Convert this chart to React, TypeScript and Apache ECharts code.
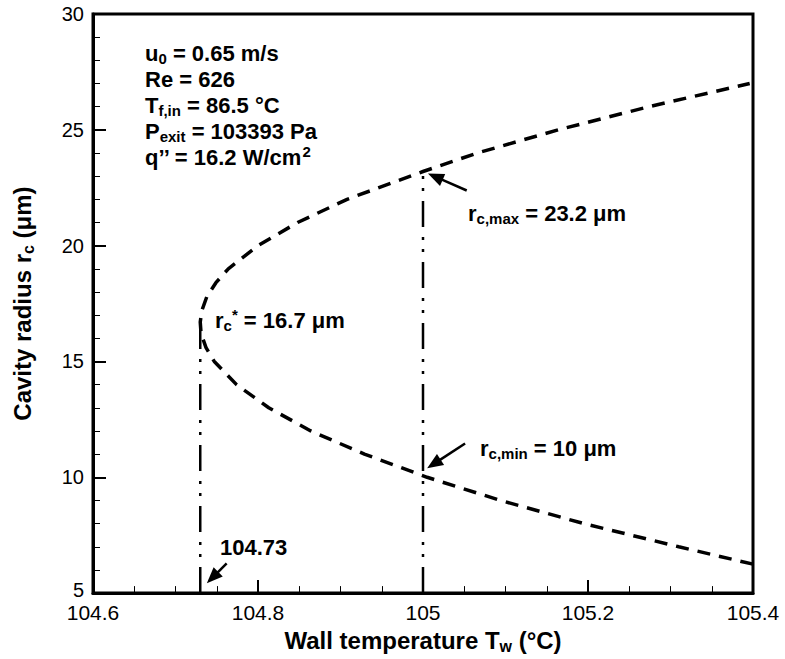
import React, { useEffect, useRef } from "react";
import * as echarts from "echarts";

// Axis tick labels
const tempTicks = ["104.6", "104.8", "105", "105.2", "105.4"];
const radiusTicks = ["5", "10", "15", "20", "25", "30"];

// Active cavity radius range vs. wall temperature (lower branch, then upper branch)
const curveTemp = [
  105.4, 105.31, 105.195, 105.094, 105.005, 104.929, 104.864, 104.813, 104.774,
  104.747, 104.737, 104.731, 104.73, 104.732, 104.738, 104.749, 104.764, 104.8,
  104.848, 104.908, 105.0, 105.066, 105.164, 105.274, 105.396,
];
const curveRadius = [
  6.25, 7, 8, 9, 10, 11, 12, 13, 14, 15, 15.6, 16.2, 16.7, 17.2, 17.8, 18.4, 19,
  20, 21, 22, 23.2, 24, 25, 26, 27,
];

// Key points
const baseRadius = 5;
const onsetTemp = 104.73;
const onsetRadius = 16.7;
const refTemp = 105;
const radiusMax = 23.2;
const radiusMin = 10;

// Annotation arrows: [tailT, tailR, headT, headR]
const arrows = [
  [105.053, 22.38, 105.006, 23.11],
  [105.051, 11.46, 105.005, 10.39],
  [104.762, 6.28, 104.738, 5.43],
];

const FONT = "'Liberation Sans', Arial, Helvetica, sans-serif";

const rich = {
  b: { fontSize: 22, fontWeight: "bold", fontFamily: FONT, color: "#000", lineHeight: 26, verticalAlign: "middle" },
  s: { fontSize: 15, fontWeight: "bold", fontFamily: FONT, color: "#000", lineHeight: 12, verticalAlign: "bottom" },
  p: { fontSize: 15, fontWeight: "bold", fontFamily: FONT, color: "#000", lineHeight: 12, verticalAlign: "top" },
};

const infoLines = [
  "{b|u}{s|0}{b| = 0.65 m/s}",
  "{b|Re = 626}",
  "{b|T}{s|f,in}{b| = 86.5 °C}",
  "{b|P}{s|exit}{b| = 103393 Pa}",
  "{b|q’’ = 16.2 W/cm}{p|2}",
];

function findTick(list: string[], v: number) {
  return list.find((t) => Math.abs(parseFloat(t) - v) < 1e-6) ?? "";
}

function textEl(x: number, y: number, text: string) {
  return {
    type: "text",
    x,
    y,
    silent: true,
    style: { text, rich, align: "left", verticalAlign: "middle", fill: "#000" },
  };
}

const titleRich = {
  t: { fontSize: 24, fontWeight: "bold", fontFamily: FONT, color: "#000", lineHeight: 28, verticalAlign: "middle" },
  s: { fontSize: 16, fontWeight: "bold", fontFamily: FONT, color: "#000", lineHeight: 12, verticalAlign: "bottom" },
};

export default function App() {
  const ref = useRef<HTMLDivElement>(null);

  useEffect(() => {
    if (!ref.current) return;
    const chart = echarts.init(ref.current, undefined, { renderer: "svg" });

    const dashDot = [26, 10, 3, 9, 3, 10];

    chart.setOption({
      animation: false,
      backgroundColor: "#fff",
      grid: {
        left: 93,
        right: 32,
        top: 14,
        bottom: 61,
        show: true,
        borderColor: "#000",
        borderWidth: 3,
        backgroundColor: "transparent",
      },
      xAxis: {
        type: "value",
        min: 104.6,
        max: 105.4,
        interval: 0.2,
        name: "{t|Wall temperature T}{s|w}{t| (°C)}",
        nameLocation: "middle",
        nameGap: 29,
        nameTextStyle: { rich: titleRich },
        splitLine: { show: false },
        axisLine: { show: true, lineStyle: { color: "#000", width: 3 } },
        axisTick: { show: true, inside: true, length: 13, lineStyle: { color: "#000", width: 2 } },
        minorTick: { show: true, splitNumber: 4, length: 7, lineStyle: { color: "#000", width: 1 } },
        axisLabel: {
          color: "#000",
          fontSize: 21,
          lineHeight: 17,
          fontFamily: FONT,
          margin: 11,
          formatter: (v: number) => findTick(tempTicks, v),
        },
      },
      yAxis: {
        type: "value",
        min: 5,
        max: 30,
        interval: 5,
        name: "{t|Cavity radius r}{s|c}{t| (μm)}",
        nameLocation: "middle",
        nameRotate: 90,
        nameGap: 57,
        nameTextStyle: { rich: titleRich },
        splitLine: { show: false },
        axisLine: { show: true, lineStyle: { color: "#000", width: 3 } },
        axisTick: { show: true, inside: true, length: 13, lineStyle: { color: "#000", width: 2 } },
        minorTick: { show: true, splitNumber: 5, length: 7, lineStyle: { color: "#000", width: 1 } },
        axisLabel: {
          color: "#000",
          fontSize: 20,
          lineHeight: 15,
          fontFamily: FONT,
          margin: 9,
          formatter: (v: number) => {
            const t = findTick(radiusTicks, v);
            return v === 5 ? `{lo|${t}}` : t;
          },
          rich: {
            lo: { fontSize: 20, fontFamily: FONT, color: "#000", lineHeight: 13, padding: [0, 0, 6, 0] },
          },
        },
      },
      series: [
        {
          type: "line",
          name: "cavity range",
          data: curveTemp.map((t, i) => [t, curveRadius[i]]),
          showSymbol: false,
          symbol: "none",
          lineStyle: { color: "#000", width: 3.5, type: [13, 9] },
          z: 3,
        },
        {
          type: "line",
          name: "onset",
          data: [[onsetTemp, baseRadius], [onsetTemp, onsetRadius]],
          showSymbol: false,
          symbol: "none",
          lineStyle: { color: "#000", width: 2.5, type: dashDot },
          z: 3,
        },
        {
          type: "line",
          name: "reference",
          data: [[refTemp, baseRadius], [refTemp, radiusMax]],
          showSymbol: false,
          symbol: "none",
          lineStyle: { color: "#000", width: 2.5, type: dashDot },
          z: 3,
        },
        {
          type: "custom",
          name: "arrows",
          data: arrows,
          encode: { x: [0, 2], y: [1, 3] },
          silent: true,
          z: 4,
          renderItem: (_params: any, api: any) => {
            const p1 = api.coord([api.value(0), api.value(1)]);
            const p2 = api.coord([api.value(2), api.value(3)]);
            const dx = p2[0] - p1[0];
            const dy = p2[1] - p1[1];
            const len = Math.hypot(dx, dy) || 1;
            const ux = dx / len;
            const uy = dy / len;
            const headLen = 16;
            const headW = 6.5;
            const bx = p2[0] - ux * headLen;
            const by = p2[1] - uy * headLen;
            const nx = -uy;
            const ny = ux;
            return {
              type: "group",
              children: [
                {
                  type: "line",
                  shape: { x1: p1[0], y1: p1[1], x2: bx + ux * 2, y2: by + uy * 2 },
                  style: { stroke: "#000", lineWidth: 2.5 },
                },
                {
                  type: "polygon",
                  shape: {
                    points: [
                      [p2[0], p2[1]],
                      [bx + nx * headW, by + ny * headW],
                      [bx - nx * headW, by - ny * headW],
                    ],
                  },
                  style: { fill: "#000" },
                },
              ],
            };
          },
        },
      ],
      graphic: [
        ...infoLines.map((t, i) => textEl(145, 53 + 26 * i, t)),
        textEl(468, 213, "{b|r}{s|c,max}{b| = 23.2 μm}"),
        textEl(480, 448, "{b|r}{s|c,min}{b| = 10 μm}"),
        textEl(215, 320, "{b|r}{s|c}{p|*}{b| = 16.7 μm}"),
        textEl(220, 547, "{b|104.73}"),
      ],
    });

    return () => chart.dispose();
  }, []);

  return (
    <div
      ref={ref}
      style={{ position: "fixed", left: 0, top: 0, width: 785, height: 659, background: "#fff" }}
    />
  );
}
